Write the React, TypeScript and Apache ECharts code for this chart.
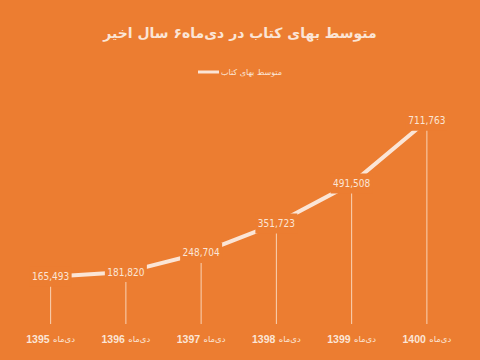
import React, { useEffect, useRef } from "react";
import * as echarts from "echarts";

const years = ["1395", "1396", "1397", "1398", "1399", "1400"];
const monthLabel = "دی‌ماه";
const prices = [165493, 181820, 248704, 351723, 491508, 711763];
const seriesName = "متوسط بهای کتاب";
const titleText = "متوسط بهای کتاب در دی‌ماه۶ سال اخیر";

const ORANGE = "#EC7D31";
const CREAM = "#FBE5D6";
const NARROW = "'Liberation Sans Narrow', 'DejaVu Sans Condensed', sans-serif";
const ARABIC = "'DejaVu Sans', sans-serif";

export default function App() {
  const ref = useRef<HTMLDivElement>(null);
  useEffect(() => {
    if (!ref.current) return;
    const chart = echarts.init(ref.current, undefined, { renderer: "svg" });
    chart.setOption({
      animation: false,
      backgroundColor: ORANGE,
      title: {
        text: titleText,
        left: "center",
        top: 21,
        textStyle: {
          color: CREAM,
          fontSize: 14,
          fontWeight: "bold",
          fontFamily: ARABIC,
        },
      },
      legend: {
        data: [seriesName],
        top: 63,
        left: "center",
        icon: "rect",
        itemWidth: 21,
        itemHeight: 3,
        itemGap: 4,
        textStyle: { color: CREAM, fontSize: 8, fontFamily: ARABIC, padding: [0, 0, 0, -3] },
      },
      grid: { left: 13, right: 15.5, top: 95.5, bottom: 36, containLabel: false },
      xAxis: {
        type: "category",
        data: years,
        axisLine: { show: false },
        axisTick: { show: false },
        axisLabel: {
          interval: 0,
          margin: 9,
          formatter: (v: string) => `{n|${v}} {p|${monthLabel}}`,
          rich: {
            n: {
              color: CREAM,
              fontSize: 10.5,
              fontWeight: "bold",
              fontFamily: "'Liberation Sans Narrow', 'Liberation Sans', sans-serif",
            },
            p: { color: CREAM, fontSize: 8.5, fontFamily: ARABIC },
          },
        },
      },
      yAxis: {
        type: "value",
        min: 0,
        max: 800000,
        show: false,
        splitLine: { show: false },
      },
      series: [
        {
          type: "bar",
          data: prices,
          barWidth: 1,
          z: 2,
          itemStyle: { color: "#F9D3B6" },
          silent: true,
        },
        {
          name: seriesName,
          type: "line",
          data: prices,
          z: 3,
          showSymbol: false,
          symbol: "none",
          lineStyle: { color: CREAM, width: 4 },
          itemStyle: { color: CREAM },
          markPoint: {
            z: 6,
            symbol: "rect",
            symbolSize: [42, 20],
            itemStyle: { color: ORANGE },
            label: {
              show: true,
              position: "inside",
              formatter: (p: any) => Number(p.value).toLocaleString("en-US"),
              color: CREAM,
              fontSize: 10,
              fontFamily: NARROW,
            },
            data: prices.map((v, i) => ({ coord: [years[i], v], value: v })),
          },
        },
      ],
    });
    return () => chart.dispose();
  }, []);
  return (
    <div
      ref={ref}
      style={{ position: "fixed", left: 0, top: 0, width: 480, height: 360 }}
    />
  );
}
